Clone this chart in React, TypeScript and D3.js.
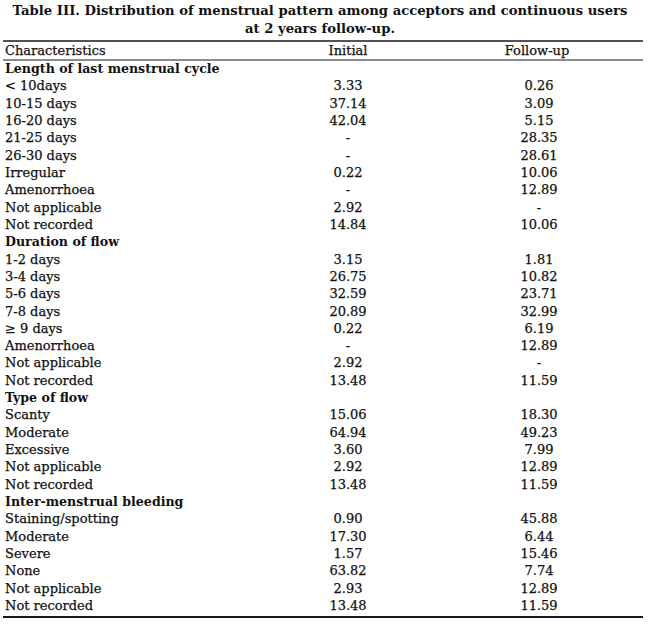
import React, { useEffect, useRef } from 'react';
import * as d3 from 'd3';

const titleLines = [
    'Table III. Distribution of menstrual pattern among acceptors and continuous users',
    'at 2 years follow-up.',
];

const columnHeaders = ['Characteristics', 'Initial', 'Follow-up'];

const rowLabels = [
    'Length of last menstrual cycle',
    '< 10days', '10-15 days', '16-20 days', '21-25 days', '26-30 days', 'Irregular', 'Amenorrhoea', 'Not applicable', 'Not recorded',
    'Duration of flow',
    '1-2 days', '3-4 days', '5-6 days', '7-8 days', '\u2265 9 days', 'Amenorrhoea', 'Not applicable', 'Not recorded',
    'Type of flow',
    'Scanty', 'Moderate', 'Excessive', 'Not applicable', 'Not recorded',
    'Inter-menstrual bleeding',
    'Staining/spotting', 'Moderate', 'Severe', 'None', 'Not applicable', 'Not recorded',
];

// indexes of the bold group headings
const sectionRows = [0, 10, 19, 25];

const initialValues = [
    '',
    '3.33', '37.14', '42.04', '-', '-', '0.22', '-', '2.92', '14.84',
    '',
    '3.15', '26.75', '32.59', '20.89', '0.22', '-', '2.92', '13.48',
    '',
    '15.06', '64.94', '3.60', '2.92', '13.48',
    '',
    '0.90', '17.30', '1.57', '63.82', '2.93', '13.48',
];

const followUpValues = [
    '',
    '0.26', '3.09', '5.15', '28.35', '28.61', '10.06', '12.89', '-', '10.06',
    '',
    '1.81', '10.82', '23.71', '32.99', '6.19', '12.89', '-', '11.59',
    '',
    '18.30', '49.23', '7.99', '12.89', '11.59',
    '',
    '45.88', '6.44', '15.46', '7.74', '12.89', '11.59',
];

const App: React.FC = () => {
    const ref = useRef<SVGSVGElement | null>(null);

    useEffect(() => {
        if (!ref.current) return;
        const svg = d3.select(ref.current);
        svg.selectAll('*').remove();

        const width = 650;
        const font = '"DejaVu Serif", serif';
        const ink = '#111';

        const y = d3.scaleLinear().domain([0, rowLabels.length - 1]).range([73, 610]);
        const x = d3.scaleOrdinal<string, number>().domain(['label', 'initial', 'follow']).range([5, 348, 539]);

        svg.append('rect').attr('width', width).attr('height', 627).attr('fill', '#fff');

        // title
        svg.selectAll('.title')
            .data(titleLines)
            .enter()
            .append('text')
            .attr('class', 'title')
            .attr('x', 320)
            .attr('y', (_d, i) => (i === 0 ? 15 : 33))
            .attr('text-anchor', 'middle')
            .attr('font-family', font)
            .attr('font-weight', 'bold')
            .attr('font-size', 13)
            .attr('textLength', (_d, i) => (i === 0 ? 615 : 150))
            .attr('lengthAdjust', 'spacingAndGlyphs')
            .attr('fill', ink)
            .text((d) => d);

        // rules
        const rules = [
            { y: 41, w: 1.6 },
            { y: 60, w: 1.2 },
            { y: 617, w: 1.8 },
        ];
        svg.selectAll('.rule')
            .data(rules)
            .enter()
            .append('line')
            .attr('x1', 3)
            .attr('x2', 643)
            .attr('y1', (d) => d.y)
            .attr('y2', (d) => d.y)
            .attr('stroke', '#1a1a1a')
            .attr('stroke-width', (d) => d.w);

        // column headers
        const keys = ['label', 'initial', 'follow'];
        svg.selectAll('.head')
            .data(columnHeaders)
            .enter()
            .append('text')
            .attr('x', (_d, i) => x(keys[i]) + (i === 2 ? -2 : 0))
            .attr('y', 55)
            .attr('text-anchor', (_d, i) => (i === 0 ? 'start' : 'middle'))
            .attr('font-family', font)
            .attr('font-size', 13)
            .attr('fill', ink)
            .attr('stroke', ink)
            .attr('stroke-width', 0.25)
            .text((d) => d);

        // body rows
        const rows = svg.selectAll('.row')
            .data(rowLabels)
            .enter()
            .append('g')
            .attr('transform', (_d, i) => `translate(0, ${y(i)})`);

        rows.append('text')
            .attr('x', x('label'))
            .attr('font-family', font)
            .attr('font-size', (_d, i) => (sectionRows.includes(i) ? 12.6 : 13))
            .attr('font-weight', (_d, i) => (sectionRows.includes(i) ? 'bold' : 'normal'))
            .attr('fill', ink)
            .attr('stroke', ink)
            .attr('stroke-width', (_d, i) => (sectionRows.includes(i) ? 0 : 0.25))
            .text((d) => d);

        rows.append('text')
            .attr('x', x('initial'))
            .attr('text-anchor', 'middle')
            .attr('font-family', font)
            .attr('font-size', 13)
            .attr('fill', ink)
            .attr('stroke', ink)
            .attr('stroke-width', 0.25)
            .text((_d, i) => initialValues[i]);

        rows.append('text')
            .attr('x', x('follow'))
            .attr('text-anchor', 'middle')
            .attr('font-family', font)
            .attr('font-size', 13)
            .attr('fill', ink)
            .attr('stroke', ink)
            .attr('stroke-width', 0.25)
            .text((_d, i) => followUpValues[i]);
    }, []);

    return (
        <svg
            ref={ref}
            width="650"
            height="627"
            style={{ position: 'absolute', left: 0, top: 0 }}
        />
    );
};

export default App;
